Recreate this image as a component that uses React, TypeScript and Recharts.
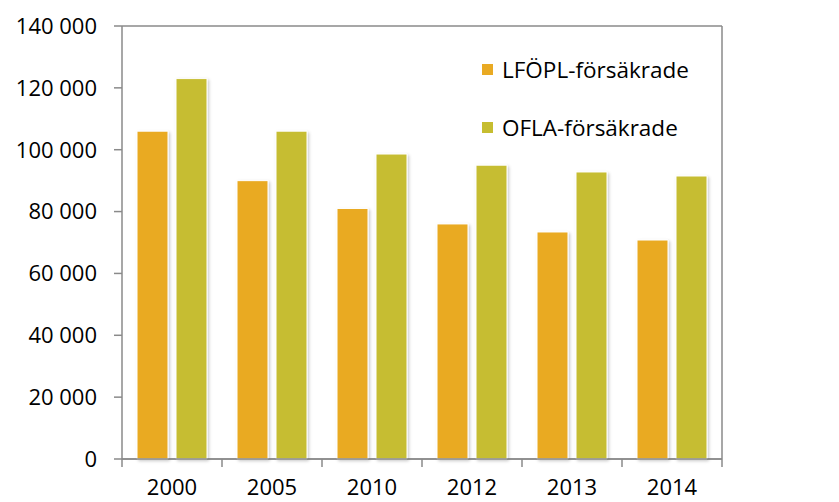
import { BarChart, Bar, XAxis, YAxis, CartesianGrid, Rectangle } from "recharts";

const years = ["2000", "2005", "2010", "2012", "2013", "2014"];
const lfopl = [106000, 90000, 81000, 76000, 73400, 70800];
const ofla = [123000, 106000, 98600, 95000, 92800, 91500];
const yTicks = [0, 20000, 40000, 60000, 80000, 100000, 120000, 140000];
const seriesNames = ["LFÖPL-försäkrade", "OFLA-försäkrade"];

const ORANGE = "#E9AA23";
const OLIVE = "#C6BD30";
const GRID = "#8a8a8a";
const FONT = "'Open Sans', sans-serif";

const W = 839;
const H = 502;
const LEFT_W = 122;
const RIGHT_W = 117;
const BAND = (W - LEFT_W - RIGHT_W) / years.length;

const data = years.map((year, i) => ({ year, lfopl: lfopl[i], ofla: ofla[i] }));

const fmt = (v: number) => String(v).replace(/\B(?=(\d{3})+(?!\d))/g, " ");

const ShadowBar = (props: any) => (
  <Rectangle {...props} stroke="#fff" strokeWidth={1} filter="url(#barShadow)" />
);

// tick marks sit between the categories, labels under the centres
const YearTick = (props: any) => {
  const { x, y, payload, index } = props;
  const last = index === years.length - 1;
  const top = y - 8;
  return (
    <g>
      <line x1={x - BAND / 2} y1={top} x2={x - BAND / 2} y2={top + 8} stroke={GRID} strokeWidth={1.5} />
      {last && (
        <line x1={x + BAND / 2} y1={top} x2={x + BAND / 2} y2={top + 8} stroke={GRID} strokeWidth={1.5} />
      )}
      <text x={x} y={y + 28} textAnchor="middle" fontSize={22} fontFamily={FONT} fill="#000">
        {payload.value}
      </text>
    </g>
  );
};

// legend drawn as an overlay so the plot keeps its full height
const LegendBox = () => {
  const colors = [ORANGE, OLIVE];
  return (
    <div style={{ position: "absolute", left: 482, top: 40, fontFamily: FONT, fontSize: 22.5, color: "#000" }}>
      {seriesNames.map((name, i) => (
        <div key={name} style={{ display: "flex", alignItems: "center", height: 58 }}>
          <span style={{ width: 11, height: 11, background: colors[i], marginRight: 9, display: "inline-block" }} />
          <span>{name}</span>
        </div>
      ))}
    </div>
  );
};

export default function App() {
  return (
    <div style={{ position: "absolute", left: 0, top: 0, width: W, height: H, background: "#fff" }}>
      <BarChart
        width={W}
        height={H}
        data={data}
        margin={{ top: 26, right: 0, bottom: 0, left: 0 }}
        barGap={8}
        barSize={31}
      >
        <defs>
          <filter id="barShadow" x="-20%" y="-20%" width="150%" height="150%">
            <feDropShadow dx="1.5" dy="1.5" stdDeviation="1.5" floodColor="#000" floodOpacity="0.22" />
          </filter>
        </defs>
        <CartesianGrid vertical={false} stroke={GRID} strokeWidth={1.5} />
        <XAxis
          dataKey="year"
          height={43}
          axisLine={{ stroke: GRID, strokeWidth: 1.5 }}
          tickLine={false}
          tickSize={8}
          tickMargin={0}
          tick={<YearTick />}
          interval={0}
        />
        <YAxis
          yAxisId="left"
          width={LEFT_W}
          domain={[0, 140000]}
          ticks={yTicks}
          tickFormatter={fmt}
          axisLine={{ stroke: GRID, strokeWidth: 1.5 }}
          tickLine={{ stroke: GRID, strokeWidth: 1.5 }}
          tickSize={8}
          tickMargin={17}
          tick={{ fontSize: 22, fontFamily: FONT, fill: "#000" }}
        />
        <YAxis
          yAxisId="right"
          orientation="right"
          width={RIGHT_W}
          domain={[0, 140000]}
          ticks={yTicks}
          tickFormatter={fmt}
          axisLine={{ stroke: GRID, strokeWidth: 1.5 }}
          tickLine={{ stroke: GRID, strokeWidth: 1.5 }}
          tickSize={8}
          tickMargin={18}
          tick={{ fontSize: 22, fontFamily: FONT, fill: "#000", textAnchor: "start" }}
        />
        <Bar yAxisId="left" dataKey="lfopl" name={seriesNames[0]} fill={ORANGE} shape={ShadowBar} isAnimationActive={false} />
        <Bar yAxisId="left" dataKey="ofla" name={seriesNames[1]} fill={OLIVE} shape={ShadowBar} isAnimationActive={false} />
      </BarChart>
      <LegendBox />
    </div>
  );
}
